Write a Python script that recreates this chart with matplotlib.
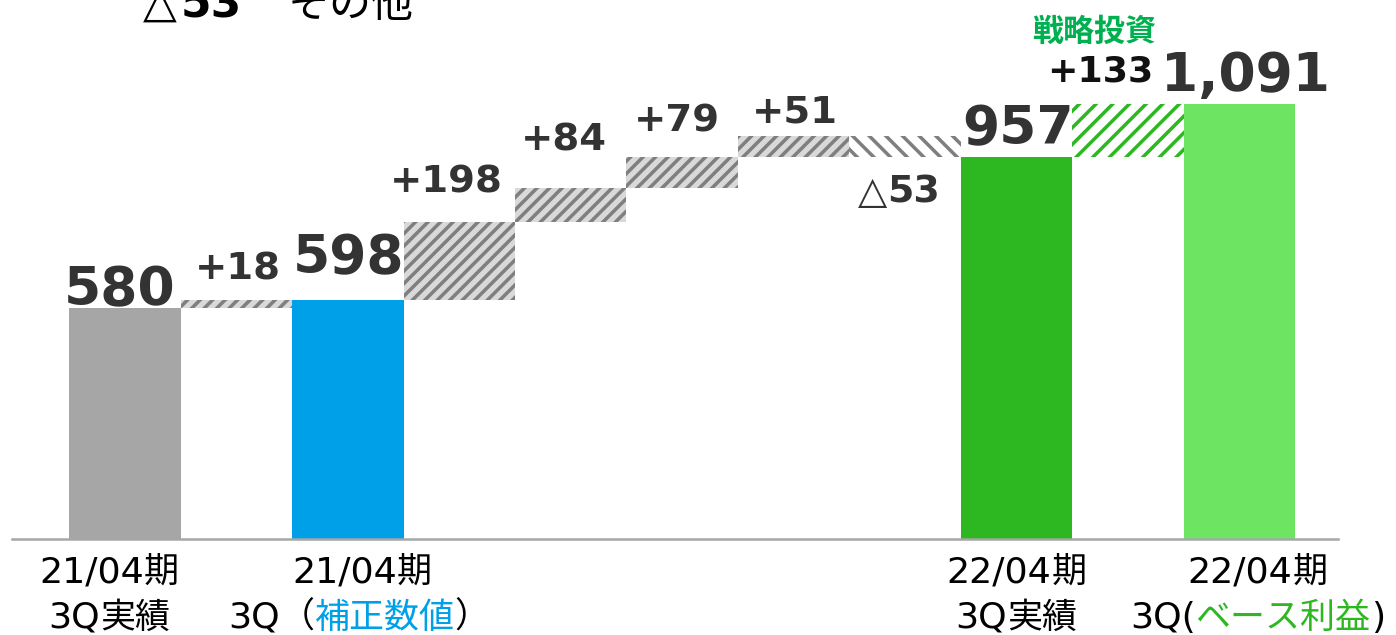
import matplotlib
matplotlib.use('Agg')
import matplotlib.pyplot as plt
from matplotlib.transforms import IdentityTransform

# ---- data ----
total_labels = ['580', '598', '957', '1,091']
total_values = [580, 598, 957, 1091]
step_labels = ['+18', '+198', '+84', '+79', '+51', '△53', '+133']
step_values = [18, 198, 84, 79, 51, -53, 133]
# order of the bars: T = total, S = step
order = ['T', 'S', 'T', 'S', 'S', 'S', 'S', 'S', 'T', 'S', 'T']
tick_line1 = ['21/04期', '21/04期', '22/04期', '22/04期']
tick_line2 = [['3Q実績'], ['3Q（', '補正数値', '）'], ['3Q実績'], ['3Q(', 'ベース利益', ')']]
note_text = '戦略投資'
top_text = ['△', '53', 'その他']

# ---- style ----
DPI = 150
W, H = 1396, 635
def px(v):
    # pixels -> points
    return v * 72 / DPI

GRAY = '#a6a6a6'
BLUE = '#00a0e9'
GREEN = '#2db821'
LGREEN = '#6ee463'
total_colors = [GRAY, BLUE, GREEN, LGREEN]
step_styles = [dict(facecolor='#d9d9d9', edgecolor='#7f7f7f', hatch='////')] * 5 + [
    dict(facecolor='white', edgecolor='#7f7f7f', hatch='\\\\\\'),
    dict(facecolor='white', edgecolor=GREEN, hatch='///'),
]
tick_line2_colors = [['black'], ['black', BLUE, 'black'], ['black'], ['black', GREEN, 'black']]
# label offsets in pixels (dx, dy) from the bar end
total_offsets = [(-5, 3), (1, 28), (2, 13), (6, 13)]
step_offsets = [(1, 21), (-13, 29), (-7, 38), (-5, 25), (1, 14), (-6, -45), (-28, 23)]
tick_dx1 = [-16, 14, 0, 18]
tick_dx2 = [-16, 11, 0, 18]

CJK = ['Noto Sans CJK JP', 'DejaVu Sans']
LABEL_COLOR = '#333333'
LATIN_PX = 36.4
CJK_PX = 35

plt.rcParams['hatch.linewidth'] = px(3.5)

fig = plt.figure(figsize=((W + 0.4) / DPI, (H + 0.4) / DPI), dpi=DPI)
ax = fig.add_axes([0, 0, 1, 1])

px_per_unit = 0.3985
base_px = 539
slot = 111.4
x0 = 125
ax.set_ylim(-(H - base_px) / px_per_unit, base_px / px_per_unit)
ax.set_xlim(-x0 / slot, (W - x0) / slot)

renderer = fig.canvas.get_renderer()


def draw_pieces(x, y, pieces, align='center'):
    # x, y in display pixels, pieces = list of (text, props)
    arts = []
    for s, props in pieces:
        t = fig.text(0, y, s, transform=IdentityTransform(), ha='left', va='baseline', **props)
        arts.append(t)
    widths = [t.get_window_extent(renderer).width for t in arts]
    start = x - sum(widths) / 2 if align == 'center' else x
    for t, w in zip(arts, widths):
        t.set_x(start)
        start += w


def split_runs(s, color):
    # latin and japanese parts get different fonts / sizes (like Meiryo)
    runs = []
    for ch in s:
        latin = ord(ch) < 128
        if runs and runs[-1][1] == latin:
            runs[-1][0] += ch
        else:
            runs.append([ch, latin])
    out = []
    for text, latin in runs:
        if latin:
            out.append((text, dict(fontsize=px(LATIN_PX), family='DejaVu Sans', color=color)))
        else:
            out.append((text, dict(fontsize=px(CJK_PX), family=CJK, color=color)))
    return out


ti = 0
si = 0
running = 0
total_slots = []
for k, kind in enumerate(order):
    if kind == 'T':
        v = total_values[ti]
        ax.bar(k, v, width=1.0, color=total_colors[ti], linewidth=0)
        running = v
        dx, dy = total_offsets[ti]
        ax.annotate(total_labels[ti], xy=(k, v), xytext=(px(dx), px(dy)), textcoords='offset points',
                    ha='center', va='baseline', fontsize=px(53.5), fontweight='bold', color=LABEL_COLOR)
        total_slots.append(k)
        ti += 1
    else:
        v = step_values[si]
        bottom = running if v > 0 else running + v
        ax.bar(k, abs(v), bottom=bottom, width=1.0, linewidth=0, **step_styles[si])
        running += v
        dx, dy = step_offsets[si]
        anchor = bottom + abs(v) if v > 0 else bottom
        xp, yp = ax.transData.transform((k, anchor))
        lab = step_labels[si]
        last = si == len(step_values) - 1
        if lab.startswith('△'):
            draw_pieces(xp + dx, yp + dy, [
                ('△', dict(fontsize=px(38), color=LABEL_COLOR)),
                (lab[1:], dict(fontsize=px(38), fontweight='bold', color=LABEL_COLOR)),
            ])
        elif last:
            draw_pieces(xp + dx, yp + dy, [(lab, dict(fontsize=px(36.4), fontweight='bold', color='#111111'))])
            # strategic investment note above the last step
            draw_pieces(xp - 34, yp + 64, [(note_text, dict(fontsize=px(31), fontweight='bold',
                                                           color='#00b050', family=CJK))])
        else:
            draw_pieces(xp + dx, yp + dy, [(lab, dict(fontsize=px(38.5), fontweight='bold', color=LABEL_COLOR))])
        si += 1

# axis line
for side in ['top', 'right', 'left']:
    ax.spines[side].set_visible(False)
ax.spines['bottom'].set_position(('data', 0))
ax.spines['bottom'].set_bounds(-1.014, 10.889)
ax.spines['bottom'].set_color(GRAY)
ax.spines['bottom'].set_linewidth(px(2.5))
ax.set_xticks([])
ax.set_yticks([])

# category labels (two lines, mixed colours)
Hf = fig.bbox.height
for i, k in enumerate(total_slots):
    xc = ax.transData.transform((k, 0))[0]
    draw_pieces(xc + tick_dx1[i], Hf - 583, split_runs(tick_line1[i], 'black'))
    parts = []
    for s, c in zip(tick_line2[i], tick_line2_colors[i]):
        parts += split_runs(s, c)
    draw_pieces(xc + tick_dx2[i], Hf - 628, parts)

# cut-off text at the top left
fig.text(143, Hf - 17, top_text[0], transform=IdentityTransform(), ha='left', va='baseline',
         fontsize=px(44), color='black')
fig.text(181, Hf - 17, top_text[1], transform=IdentityTransform(), ha='left', va='baseline',
         fontsize=px(44), fontweight='bold', color='black')
fig.text(288, Hf - 17, top_text[2], transform=IdentityTransform(), ha='left', va='baseline',
         fontsize=px(42), family=CJK, color='black')

fig.savefig('out.png', dpi=DPI)
